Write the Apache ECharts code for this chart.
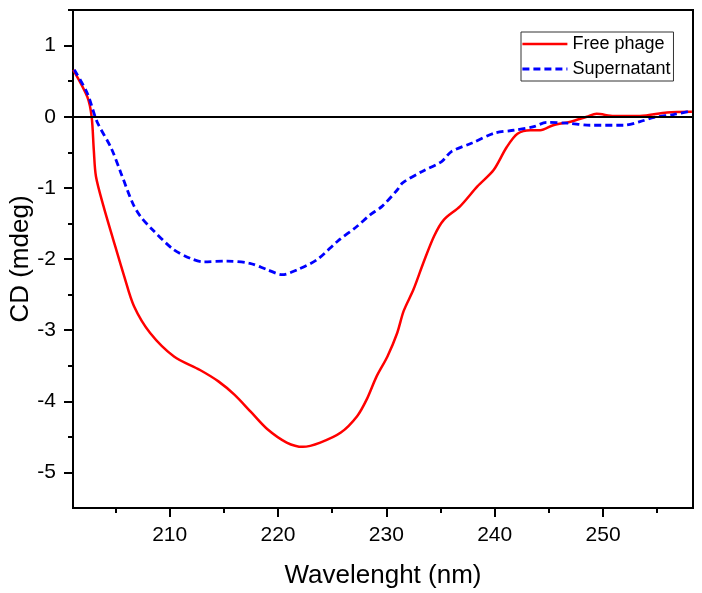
<!DOCTYPE html>
<html>
<head>
<meta charset="utf-8">
<script src="https://cdn.jsdelivr.net/npm/echarts@6/dist/echarts.min.js"></script>
<style>
html,body{margin:0;padding:0;background:#fff;}
#c{width:702px;height:593px;}
</style>
</head>
<body>
<div id="c"></div>
<script>
var xMajorTicks = [210, 220, 230, 240, 250];
var xMinorTicks = [205, 215, 225, 235, 245, 255];
var yMajorTicks = [-5, -4, -3, -2, -1, 0, 1];
var yMinorTicks = [-4.5, -3.5, -2.5, -1.5, -0.5, 0.5, 1.5];

var freeX = [201.1, 202.4, 202.8, 203.0, 203.2, 203.9, 204.8, 205.8, 206.7, 208.2, 210.4, 212.8, 214.5, 216.0, 217.5, 219.0, 220.8, 222.3, 223.9, 225.8, 227.3, 228.2, 229.1, 230.1, 231.0, 231.6, 232.5, 233.4, 234.4, 235.3, 236.8, 238.4, 239.9, 241.1, 242.1, 243.3, 244.2, 245.4, 247.0, 248.5, 249.4, 251.0, 253.4, 255.9, 258.2];
var freeY = [0.66, 0.28, 0.0, -0.47, -0.84, -1.26, -1.73, -2.24, -2.66, -3.04, -3.37, -3.56, -3.72, -3.91, -4.15, -4.39, -4.58, -4.64, -4.58, -4.44, -4.21, -3.97, -3.65, -3.37, -3.04, -2.73, -2.43, -2.06, -1.68, -1.45, -1.26, -0.98, -0.75, -0.43, -0.24, -0.19, -0.19, -0.12, -0.07, 0.0, 0.04, 0.01, 0.01, 0.06, 0.07];

var superX = [201.2, 202.4, 203.3, 204.6, 205.5, 206.6, 207.3, 208.3, 210.3, 211.9, 213.1, 215.3, 217.4, 219.0, 220.4, 221.8, 223.6, 225.5, 227.3, 228.5, 229.6, 231.0, 231.5, 233.3, 235.1, 236.0, 237.9, 240.0, 241.8, 243.6, 244.8, 246.7, 248.8, 251.9, 253.4, 254.7, 256.5, 258.1];
var superY = [0.66, 0.33, -0.07, -0.44, -0.79, -1.22, -1.40, -1.57, -1.86, -1.99, -2.04, -2.03, -2.06, -2.15, -2.22, -2.15, -2.01, -1.75, -1.54, -1.38, -1.26, -1.03, -0.93, -0.77, -0.63, -0.49, -0.37, -0.23, -0.19, -0.14, -0.08, -0.09, -0.12, -0.12, -0.07, -0.01, 0.03, 0.08];

function pairs(xs, ys) { return xs.map(function (x, i) { return [x, ys[i]]; }); }

var FONT = 'Liberation Sans, Arial, sans-serif';
var chart = echarts.init(document.getElementById('c'), null, {renderer: 'canvas'});
var axisLineStyle = {color: '#000', width: 2};
chart.setOption({
  animation: false,
  backgroundColor: '#fff',
  grid: {left: 73, top: 10, right: 9, bottom: 85, show: true, borderColor: '#000', borderWidth: 2, containLabel: false, outerBoundsMode: 'none'},
  legend: {
    orient: 'vertical', left: 521, top: 32,
    itemWidth: 45, itemHeight: 10, itemGap: 7,
    padding: [3, 3, 3, 0],
    borderColor: '#333', borderWidth: 1,
    itemStyle: {opacity: 0},
    textStyle: {fontFamily: FONT, fontSize: 18, color: '#000'},
    data: [
      {name: 'Free phage', lineStyle: {width: 2.5, color: '#FF0000'}},
      {name: 'Supernatant', lineStyle: {width: 2.8, color: '#0000FF', type: [7, 4]}}
    ]
  },
  xAxis: [{
    type: 'value', min: 201.08, max: 258.3,
    name: 'Wavelenght (nm)', nameLocation: 'middle', nameGap: 55, nameMoveOverlap: false,
    nameTextStyle: {fontFamily: FONT, fontSize: 26, color: '#000'},
    axisLine: {show: true, onZero: false, lineStyle: axisLineStyle},
    axisTick: {show: true, inside: false, length: 9, lineStyle: {color: '#000', width: 2}, customValues: xMajorTicks},
    axisLabel: {fontFamily: FONT, fontSize: 21, color: '#000', margin: 17, customValues: xMajorTicks},
    splitLine: {show: false}
  }, {
    type: 'value', min: 201.08, max: 258.3, position: 'bottom',
    axisLine: {show: false, onZero: false},
    axisTick: {show: true, length: 5, lineStyle: {color: '#000', width: 2}, customValues: xMinorTicks},
    axisLabel: {show: false},
    splitLine: {show: false}
  }],
  yAxis: [{
    type: 'value', min: -5.5, max: 1.5,
    name: 'CD (mdeg)', nameLocation: 'middle', nameGap: 39, nameMoveOverlap: false,
    nameTextStyle: {fontFamily: FONT, fontSize: 26, color: '#000'},
    axisLine: {show: true, onZero: false, lineStyle: axisLineStyle},
    axisTick: {show: true, inside: false, length: 9, lineStyle: {color: '#000', width: 2}, customValues: yMajorTicks},
    axisLabel: {fontFamily: FONT, fontSize: 21, color: '#000', margin: 17, customValues: yMajorTicks},
    splitLine: {show: false}
  }, {
    type: 'value', min: -5.5, max: 1.5, position: 'left',
    axisLine: {show: false, onZero: false},
    axisTick: {show: true, length: 5, lineStyle: {color: '#000', width: 2}, customValues: yMinorTicks},
    axisLabel: {show: false},
    splitLine: {show: false}
  }],
  series: [{
    name: 'Free phage', type: 'line', smooth: 0.3, symbol: 'none',
    xAxisIndex: 0, yAxisIndex: 0,
    data: pairs(freeX, freeY),
    lineStyle: {color: '#FF0000', width: 2.5},
    itemStyle: {color: '#FF0000'},
    markLine: {
      silent: true, symbol: 'none', label: {show: false},
      lineStyle: {color: '#000', width: 2, type: 'solid'},
      data: [{yAxis: 0}]
    },
    z: 3
  }, {
    name: 'Supernatant', type: 'line', smooth: 0.3, symbol: 'none',
    xAxisIndex: 0, yAxisIndex: 0,
    data: pairs(superX, superY),
    lineStyle: {color: '#0000FF', width: 2.8, type: [7, 4]},
    itemStyle: {color: '#0000FF'},
    z: 4
  }]
});
</script>
</body>
</html>
